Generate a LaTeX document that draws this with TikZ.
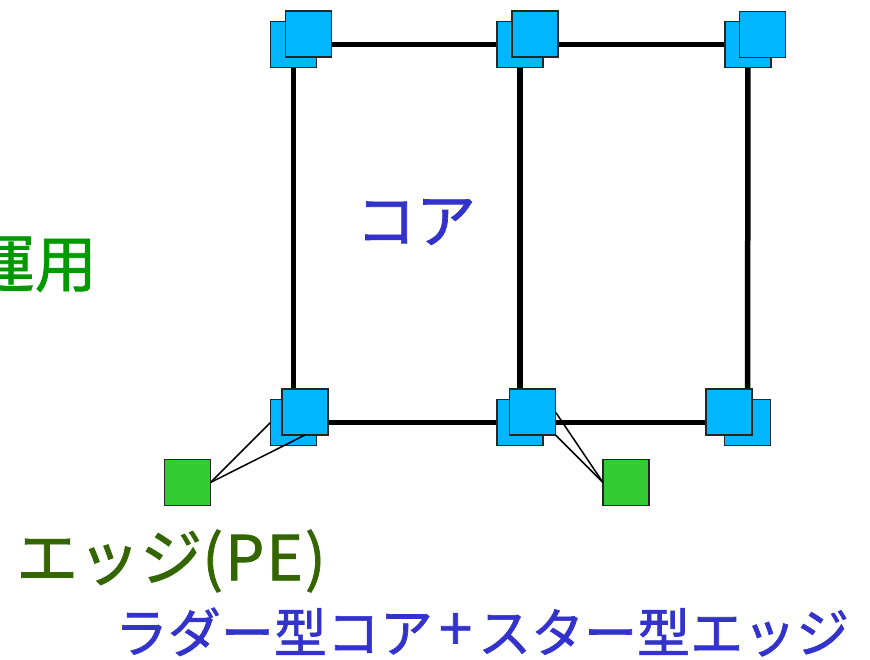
\documentclass[tikz,border=0pt]{standalone}
\usepackage{fontspec}
\newfontfamily\jpfont[FakeBold=1.2]{Noto Sans CJK JP}
\usetikzlibrary{backgrounds}
\definecolor{routerblue}{RGB}{0,182,255}
\definecolor{edgegreen}{RGB}{51,204,51}
\definecolor{labelblue}{RGB}{51,51,204}
\definecolor{opgreen}{RGB}{0,153,0}
\definecolor{pegreen}{RGB}{51,102,0}
\tikzset{
  router/.style={draw=black!85, line width=1.6pt, fill=routerblue, minimum size=46pt, inner sep=0pt, outer sep=0pt},
  pebox/.style={draw=black!85, line width=1.6pt, fill=edgegreen, minimum size=46pt, inner sep=0pt, outer sep=0pt},
  trunk/.style={line width=5.5pt, black},
  access/.style={line width=1.5pt, black},
  jp/.style={font=\jpfont\fontsize{#1}{#1}\selectfont, inner sep=0pt},
}
\begin{document}
\begin{tikzpicture}[x=1pt, y=-1pt]
\useasboundingbox (0,0) rectangle (870,659);
% ladder core: back chassis of each router
\node[router] (tlb) at (293.5,44.5) {};
\node[router] (tmb) at (520,44.5) {};
\node[router] (trb) at (748,44.5) {};
\node[router] (blb) at (293.5,422.5) {};
\node[router] (bmb) at (520,422.5) {};
\node[router] (brb) at (747.5,422.5) {};
% front chassis
\node[router] (tlf) at (308.5,34) {};
\node[router] (tmf) at (535,34) {};
\node[router] (trf) at (762.5,34.5) {};
\node[router] (blf) at (305,412) {};
\node[router] (bmf) at (532.5,412) {};
\node[router] (brf) at (729,412) {};
% edge routers
\node[pebox] (pel) at (187.5,482.5) {};
\node[pebox] (per) at (626,482.5) {};
% core links behind the routers
\begin{scope}[on background layer]
\draw[trunk] (tlb.center) -- (tmb.center) -- (trb.center);
\draw[trunk] (blb.center) -- (bmb.center) -- (brb.center);
\draw[trunk] (tlb.center) -- (blb.center);
\draw[trunk] (tmb.center) -- (bmb.center);
\draw[trunk] (trb.center) -- (brb.center);
\end{scope}
% star-shaped access links
\draw[access] (pel.east) -- (blb.west);
\draw[access] (pel.east) -- (blf.south);
\draw[access] (per.west) -- (bmf.east);
\draw[access] (per.west) -- (bmf.south east);
% labels
\node[jp=60, text=labelblue] (core) at (416,222) {コア};
\node[jp=62, text=opgreen, anchor=east] (ops) at (97,264) {運用};
\node[jp=62, text=pegreen, anchor=west] (pe) at (16,561) {エッジ(\hspace{2pt}P\hspace{2pt}E\hspace{2pt})};
\node[jp=53, text=labelblue] (caption) at (482,632) {ラダー型コア\hspace{6pt}\raisebox{2pt}{\fontsize{60}{60}\selectfont +}\hspace{6pt}スター型エッジ};
\end{tikzpicture}
\end{document}
